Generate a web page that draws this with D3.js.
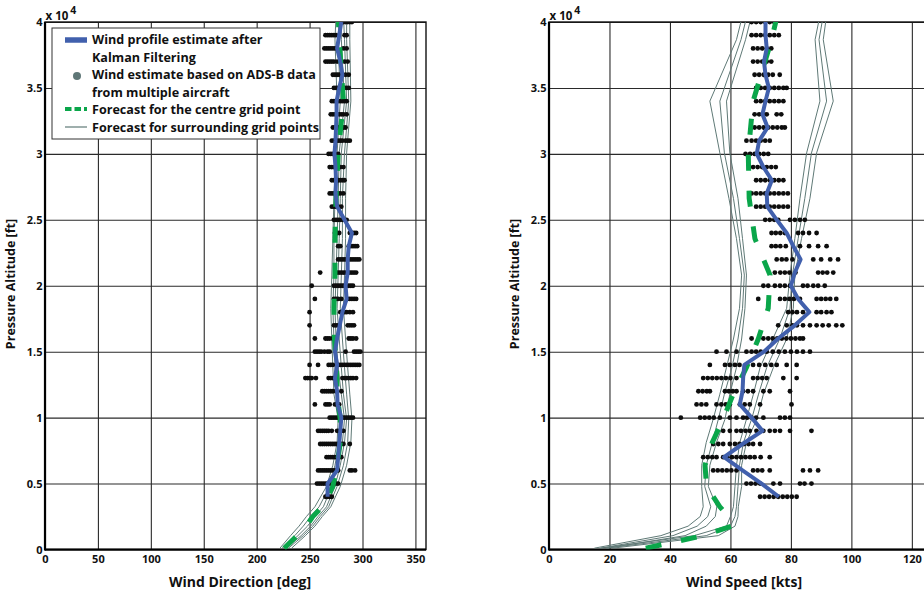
<!DOCTYPE html>
<html>
<head>
<meta charset="utf-8">
<script src="https://cdn.jsdelivr.net/npm/d3@7"></script>
<style>
  body { margin: 0; background: #fff; }
  svg text { font-family: "Open Sans", "Lato", sans-serif; fill: #111; }
</style>
</head>
<body>
<svg id="chart" width="924" height="595"></svg>
<script>
// altitudes (ft) of the Kalman estimates and of the ADS-B rows
var estAlt = [4000, 5000, 6000, 7000, 8000, 9000, 10000, 11000, 12000, 13000, 14000, 15000,
  16000, 17000, 18000, 19000, 20000, 21000, 22000, 23000, 24000, 25000, 26000, 27000, 28000,
  29000, 30000, 31000, 32000, 33000, 34000, 35000, 36000, 37000, 38000, 39000, 40000];

var kalmanDir = [267, 267, 276, 277, 278, 279, 280, 276.5, 276, 274, 276, 274, 276, 278.5, 281,
  285, 284, 286, 286, 287, 290, 283, 276, 274.5, 275, 274.5, 273.5, 274.5, 275, 275.5, 275.5,
  278, 281, 279, 276, 278, 280];

var kalmanSpeed = [76, 70.3, 64, 57.9, 64, 70.6, 67, 63.1, 64, 64.2, 64.6, 71.1, 75.8, 81.3,
  86.1, 82.4, 80, 81.3, 83.2, 80.8, 78.6, 75.3, 72.2, 72, 73.7, 70.9, 68.7, 69.5, 72.3, 70.6,
  71.6, 72.7, 71.6, 71.1, 72, 71.6, 71.6];

// ADS-B wind samples, one row per altitude in estAlt
var adsbDir = [
  [265, 267, 269, 271],
  [257, 259, 261, 263, 265, 267, 269, 271, 273, 275, 277],
  [258, 260, 262, 264, 266, 268, 270, 272, 274, 277, 288, 290, 293],
  [266, 268, 270, 272, 274, 276, 278, 280],
  [260, 262, 264, 266, 268, 270, 272, 274, 276, 278, 280, 282, 288],
  [258, 260, 262, 264, 266, 268, 271, 276, 278, 280, 282],
  [269, 271, 273, 275, 277, 279, 281, 283, 285, 287, 289, 291],
  [255, 265, 267, 269, 274, 276, 278],
  [262, 264, 266, 268, 270, 272, 275, 280],
  [246, 248, 250, 252, 256, 268, 270, 272, 275, 281, 283, 285, 287, 289, 291, 294],
  [250, 258, 268, 270, 272, 277, 279, 281, 283, 285, 287, 289, 291, 293, 295, 297],
  [255, 257, 259, 261, 264, 267, 269, 284, 292, 294, 296, 298],
  [255, 265, 267, 269, 272, 287, 289, 291, 294],
  [250, 273, 275, 277, 286, 288, 290, 292],
  [250, 279, 281, 283, 285, 288, 291],
  [255, 273, 275, 277, 280, 286, 288, 290, 292, 294],
  [252, 273, 275, 277, 279, 281, 283, 285, 287, 289, 291],
  [260, 276, 278, 280, 282, 284, 286, 288, 290, 292, 294],
  [277, 279, 281, 283, 285, 287, 289, 291, 293, 295, 297],
  [277, 279, 287, 289, 291, 293, 295],
  [274, 276, 278, 288, 290, 292, 294],
  [273, 275, 277, 279, 281, 283, 285],
  [271, 273, 275, 277, 280],
  [269, 271, 273, 275, 277, 279, 282],
  [271, 273, 275, 277, 279, 281, 283],
  [269, 271, 273, 275, 277, 279, 282],
  [268, 270, 272, 274, 277],
  [271, 273, 275, 277, 279, 281, 284, 286, 288],
  [272, 274, 276, 278, 280, 282, 284],
  [270, 272, 274, 276, 278, 280, 282, 285],
  [271, 273, 275, 277, 279, 281, 283, 285],
  [273, 275, 277, 279, 281, 283, 285, 287],
  [272, 274, 276, 278, 280, 284, 287],
  [265, 267, 269, 271, 273, 276, 283, 286],
  [264, 266, 268, 270, 272, 274, 282, 285],
  [265, 267, 269, 271, 273, 275, 283, 285],
  [280, 282, 284, 286, 288, 290]
];

var adsbSpeed = [
  [69.8, 71.3, 72.8, 74.3, 75.8, 77.3, 78.8, 80.3, 81.9],
  [65.3, 66.8, 68.3, 69.8, 74.2, 76.4, 83, 84.5, 86.8],
  [54.3, 55.8, 57.3, 58.8, 60.3, 62, 67.5, 69, 70.5, 73, 84, 86.3, 89],
  [51, 52.5, 54, 55.4, 57.6, 59, 60.5, 62, 63.5, 65, 66.5, 68, 70, 73],
  [54.3, 56, 57.6, 59.8, 61.5, 63, 64.5, 66, 67.5, 69.8],
  [57.6, 59.8, 62, 63.5, 65, 66.4, 68.6, 70.9, 73, 74.7, 76.4, 79.7, 86.8],
  [43.6, 50, 51.5, 53, 54.5, 56.5, 59.8, 62, 64.2, 65.5, 67, 68.5, 70.9, 76.4, 78, 79.7],
  [48.8, 50.4, 52, 55.4, 57, 58.5, 59.8, 63.1, 64.7, 66.4, 69.8, 80.2],
  [49.4, 50.8, 52.2, 53.2, 58.2, 59.5, 60.8, 62, 64.2, 65.8, 67.5, 70.9, 73, 79.7],
  [51, 52.5, 54, 55.5, 57, 58.5, 60, 62, 67.5, 69, 70.5, 72, 77.5, 81.9],
  [53.2, 58.2, 59.8, 61.5, 63, 65.3, 67.5, 69.5, 71.5, 73.5, 75.3, 78.6, 81.9],
  [55.4, 58.7, 62, 65.3, 67, 68.5, 70, 72, 74, 76, 78, 80, 82, 84, 86.3],
  [67, 70.9, 72.5, 74, 75.5, 77, 78.5, 80, 81.5, 83, 84],
  [75.8, 78.6, 80.5, 82, 84, 86.3, 88.5, 90.5, 92.5, 95, 97],
  [79.1, 80.5, 82, 84, 88.5, 90, 91.8, 93.4],
  [69.2, 76.4, 78, 79.5, 81, 83, 88.5, 90, 91.5, 93, 95],
  [70.9, 72.5, 74.7, 76.4, 78, 79.7, 84, 85.5, 87.4, 89, 91.2],
  [74.7, 76.5, 78, 79.5, 81.5, 89, 90.5, 92, 94],
  [75.3, 77, 78.5, 80.5, 87.4, 90, 93, 95.6],
  [73.6, 75, 76.5, 78.3, 83, 86, 89, 91.8],
  [73.6, 75, 76.5, 78, 82.4, 84, 86, 88.5],
  [71.5, 73, 74.5, 75.8, 79.7, 81.3, 83, 84.6],
  [68.5, 70, 71.5, 73, 74.5, 76, 77.5, 79],
  [67, 68.5, 70, 71.5, 73, 74.5, 76, 77.5, 79],
  [68.5, 70, 71.5, 73, 74.5, 76, 77.5],
  [67.5, 69, 70.5, 72, 73.5, 75],
  [65, 66.5, 68, 69.5, 71, 72.5],
  [65.3, 67, 68.5, 70, 71.5, 73],
  [68, 69.5, 71, 72.5, 74, 75.5, 77, 78],
  [68, 69.5, 71, 72, 75.3, 76.8],
  [68.5, 70, 71.5, 73, 74.5, 76, 77.5],
  [68.5, 70, 71.5, 73, 74.5, 76, 77.5, 78.6],
  [68, 69.5, 71, 72.5, 74, 76.3],
  [67.5, 69, 70.5, 72, 73.5],
  [67.5, 69, 70.5, 72, 73.5],
  [67, 68.5, 70, 71.5, 73, 74.5, 76],
  [67, 68.5, 70, 71.5, 73, 74.5]
];

// forecast model levels (pressure altitude, ft)
var levelAlt = [100, 1050, 1770, 2500, 3240, 4780, 6390, 8120, 9880, 11780, 13800, 15960,
  18290, 20810, 23570, 26630, 30070, 34000, 38660, 40500];

var centreDir = [226, 238, 247, 253, 262, 272, 276, 279, 279, 276, 275.5, 273.5, 273, 274, 274,
  275, 277, 282, 278, 277];
var surroundDir = [
  [222, 232, 240, 247, 255, 266, 272, 276, 277, 273, 272, 271, 270, 271, 272, 273, 275, 276, 274, 275],
  [224, 236, 244, 251, 259, 269, 274, 278, 280, 276, 274, 273, 272, 273, 273, 274, 276, 279, 277, 278],
  [226, 239, 248, 255, 263, 271, 276, 281, 283, 280, 277, 275, 274, 275, 276, 277, 278, 283, 280, 280],
  [228, 242, 251, 258, 266, 274, 279, 283, 285, 282, 280, 278, 276, 277, 278, 279, 280, 285, 283, 282],
  [230, 244, 253, 260, 268, 276, 282, 286, 287, 285, 283, 281, 279, 280, 281, 281, 283, 287, 285, 285],
  [233, 246, 255, 262, 270, 279, 285, 289, 290, 288, 286, 284, 282, 283, 284, 284, 285, 289, 288, 288]
];

var centreSpeed = [32, 51, 60.4, 59.3, 56.5, 52.1, 51.6, 54, 57.6, 60.9, 65.3, 69.2, 72.5, 73.1,
  68.1, 66.2, 65.9, 67.5, 73.6, 75.5];
var surroundSpeed = [
  [15, 37, 46, 50, 51, 50.5, 50.5, 52, 54.3, 56.5, 58.7, 61, 63, 63.7, 62, 59.5, 56.5, 53.2, 62, 64],
  [17, 41, 49, 52.5, 53.5, 51.5, 52, 54, 56, 58, 60.5, 62.5, 64, 64.6, 63, 61, 58, 56.5, 63.5, 65.5],
  [19, 45, 52, 55, 55.5, 52.7, 53.2, 55.4, 58.2, 59.8, 62, 63.7, 64.8, 65.3, 64, 62.5, 59.8, 58.7, 65, 67],
  [17, 48, 58.7, 60, 61, 61.5, 62, 63.1, 65.3, 67.6, 69.8, 74, 78.6, 79.7, 81.3, 83, 85.2, 89.6, 88, 89.6],
  [19, 52, 60, 61.5, 62, 62.5, 63, 64.3, 67, 69.3, 72, 76.3, 79.7, 80.5, 82.4, 84.6, 86.8, 91.8, 89.3, 90.7],
  [21, 56, 61.5, 62.5, 62.6, 63.7, 63.7, 65.3, 68.7, 70.9, 74.2, 78.6, 80.8, 81.3, 83.5, 86.3, 88.5, 94, 90.7, 91.8]
];

var yTicks = [0, 5000, 10000, 15000, 20000, 25000, 30000, 35000, 40000];
var yTickLabels = ["0", "0.5", "1", "1.5", "2", "2.5", "3", "3.5", "4"];
var dirTicks = [0, 50, 100, 150, 200, 250, 300, 350];
var speedTicks = [0, 20, 40, 60, 80, 100, 120];

var legendLabels = [
  ["Wind profile estimate after", "Kalman Filtering"],
  ["Wind estimate based on ADS-B data", "from multiple aircraft"],
  ["Forecast for the centre grid point"],
  ["Forecast for surrounding grid points"]
];

var BLUE = "#4160ad", GREEN = "#0aa64a", GREY = "#5f7976";

var svg = d3.select("#chart");
var plotW = 381, plotTop = 22, plotBottom = 549.5;

function drawPanel(cfg) {
  var x = d3.scaleLinear().domain(cfg.xDomain).range([cfg.left, cfg.left + plotW]);
  var y = d3.scaleLinear().domain([0, 40000]).range([plotBottom, plotTop]);

  var g = svg.append("g");

  g.append("clipPath").attr("id", cfg.id + "-clip")
    .append("rect").attr("x", cfg.left).attr("y", plotTop)
    .attr("width", plotW).attr("height", plotBottom - plotTop);

  // grid + tick labels
  var xAxis = g.append("g").attr("transform", "translate(0," + plotBottom + ")")
    .call(d3.axisBottom(x).tickValues(cfg.xTicks).tickSize(-(plotBottom - plotTop)).tickPadding(6));
  var yAxis = g.append("g").attr("transform", "translate(" + cfg.left + ",0)")
    .call(d3.axisLeft(y).tickValues(yTicks).tickSize(-plotW).tickPadding(2.5)
      .tickFormat(function (d, i) { return yTickLabels[i]; }));
  [xAxis, yAxis].forEach(function (a) {
    a.select(".domain").remove();
    a.selectAll(".tick line").attr("stroke", "#2a2a2a").attr("stroke-width", 1.1);
    a.selectAll(".tick text").style("font-size", "11px").style("font-weight", 700)
      .attr("fill", "#111");
  });

  // frame
  g.append("rect").attr("x", cfg.left).attr("y", plotTop).attr("width", plotW)
    .attr("height", plotBottom - plotTop).attr("fill", "none").attr("stroke", "#111").attr("stroke-width", 1.4);
  g.append("line").attr("x1", cfg.left).attr("x2", cfg.left).attr("y1", plotTop).attr("y2", plotBottom + 1)
    .attr("stroke", "#000").attr("stroke-width", 2.2);
  g.append("line").attr("x1", cfg.left).attr("x2", cfg.left + plotW).attr("y1", plotBottom).attr("y2", plotBottom)
    .attr("stroke", "#000").attr("stroke-width", 2.2);

  // exponent label
  var ex = g.append("text").attr("x", cfg.left + 0.5).attr("y", 20)
    .style("font-size", "11.5px").style("font-weight", 700);
  ex.append("tspan").text("x 10");
  ex.append("tspan").attr("dy", -6.5).attr("dx", 2).style("font-size", "10.5px").text("4");

  // axis titles
  g.append("text").attr("x", cfg.left + 195).attr("y", 587).attr("text-anchor", "middle")
    .style("font-size", "14px").style("font-weight", 700).text(cfg.xTitle);
  g.append("text").attr("transform", "translate(" + (cfg.left - 30) + "," + 284 + ") rotate(-90)")
    .attr("text-anchor", "middle").style("font-size", "12.5px").style("font-weight", 700)
    .text("Pressure Altitude [ft]");

  var data = g.append("g").attr("clip-path", "url(#" + cfg.id + "-clip)");

  var fLine = d3.line().x(function (d) { return x(d[0]); }).y(function (d) { return y(d[1]); });

  cfg.surround.forEach(function (s) {
    data.append("path").datum(d3.zip(s, levelAlt)).attr("d", fLine)
      .attr("fill", "none").attr("stroke", GREY).attr("stroke-width", 1);
  });

  var dots = [];
  cfg.adsb.forEach(function (row, i) {
    row.forEach(function (v) { dots.push([v, estAlt[i]]); });
  });
  data.selectAll("circle.adsb").data(dots).enter().append("circle")
    .attr("class", "adsb")
    .attr("cx", function (d) { return x(d[0]); })
    .attr("cy", function (d) { return y(d[1]); })
    .attr("r", 2.4).attr("fill", "#0d0d0d");

  data.append("path").datum(d3.zip(cfg.centre, levelAlt)).attr("d", fLine)
    .attr("fill", "none").attr("stroke", GREEN).attr("stroke-width", 5)
    .attr("stroke-dasharray", "16,20");

  data.append("path").datum(d3.zip(cfg.kalman, estAlt)).attr("d", fLine)
    .attr("fill", "none").attr("stroke", BLUE).attr("stroke-width", 4)
    .attr("stroke-linejoin", "round");
}

drawPanel({
  id: "dir", left: 45, xDomain: [0, 360], xTicks: dirTicks, xTitle: "Wind Direction [deg]",
  kalman: kalmanDir, adsb: adsbDir, centre: centreDir, surround: surroundDir
});
drawPanel({
  id: "spd", left: 549, xDomain: [0, 126], xTicks: speedTicks, xTitle: "Wind Speed [kts]",
  kalman: kalmanSpeed, adsb: adsbSpeed, centre: centreSpeed, surround: surroundSpeed
});

// legend
var lg = svg.append("g");
lg.append("rect").attr("x", 52).attr("y", 28).attr("width", 268).attr("height", 111)
  .attr("fill", "#fff").attr("stroke", "#333").attr("stroke-width", 1);
var rowY = [44, 79, 114, 131.5];
legendLabels.forEach(function (lines, i) {
  lines.forEach(function (t, j) {
    lg.append("text").attr("x", 92).attr("y", rowY[i] + j * 17.5)
      .style("font-size", "12.6px").style("font-weight", 700).text(t);
  });
});
lg.append("line").attr("x1", 65).attr("x2", 87).attr("y1", 40).attr("y2", 40)
  .attr("stroke", BLUE).attr("stroke-width", 5.5);
lg.append("circle").attr("cx", 77).attr("cy", 76).attr("r", 4).attr("fill", "#5f7777");
lg.append("line").attr("x1", 65).attr("x2", 87).attr("y1", 109).attr("y2", 109)
  .attr("stroke", GREEN).attr("stroke-width", 4).attr("stroke-dasharray", "6.5,3");
lg.append("line").attr("x1", 65).attr("x2", 87).attr("y1", 127).attr("y2", 127)
  .attr("stroke", GREY).attr("stroke-width", 1.2);
</script>
</body>
</html>
